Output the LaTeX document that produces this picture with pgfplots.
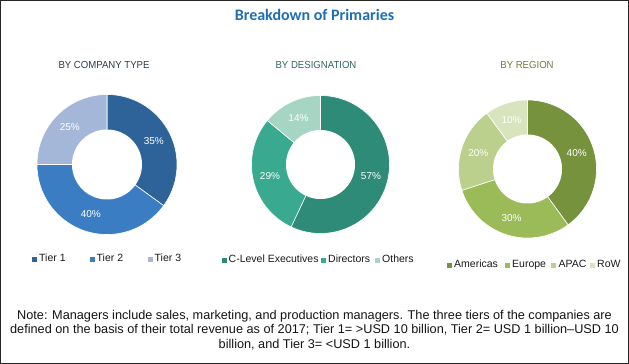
\documentclass[border=0pt]{standalone}
\usepackage{pgfplots}
\pgfplotsset{compat=1.18}
\usepackage{fontspec}
\setmainfont{Liberation Sans}
\newfontfamily\titlefont{Carlito}
\newfontfamily\subfont[FakeStretch=0.94]{Liberation Sans}

\definecolor{titleblue}{HTML}{1F6DB4}
\definecolor{tA}{HTML}{2E6399}
\definecolor{tB}{HTML}{3A7DC3}
\definecolor{tC}{HTML}{A4B7D9}
\definecolor{dA}{HTML}{2E8B77}
\definecolor{dB}{HTML}{39AA90}
\definecolor{dC}{HTML}{A7D5C4}
\definecolor{rA}{HTML}{76923C}
\definecolor{rB}{HTML}{9BBB59}
\definecolor{rC}{HTML}{BBD08C}
\definecolor{rD}{HTML}{D8E4BD}
\definecolor{subA}{HTML}{2D3B4B}
\definecolor{subB}{HTML}{2F6660}
\definecolor{subC}{HTML}{77773C}

% #1 = share before this slice (%), #2 = share of the slice (%), #3 = colour
\newcommand\slice[3]{%
  \addplot[fill=#3, draw=white, line width=0.6pt, domain={90-3.6*(#1+#2)}:{90-3.6*(#1)}, samples=60, variable=\t]
    ({cos(\t)},{sin(\t)}) -- (axis cs:0,0) -- cycle;
  \node[text=white, font=\fontsize{10}{12}\selectfont] at (axis cs:{0.75*cos(90-3.6*(#1+#2/2))},{0.75*sin(90-3.6*(#1+#2/2))}) {#2\%};
}
\newcommand\hole{%
  \addplot[fill=white, draw=none, domain=0:360, samples=120, variable=\t] ({0.5*cos(\t)},{0.5*sin(\t)}) -- cycle;
}
\pgfplotsset{donut/.style={hide axis, scale only axis, anchor=center, clip=false,
  xmin=-1, xmax=1, ymin=-1, ymax=1}}

\begin{document}
\begin{tikzpicture}
\useasboundingbox (0,0) rectangle (629pt,364pt);
\draw[line width=1.3pt, color=black!85] (0.65pt,0.65pt) rectangle (628.35pt,363.35pt);

\node[anchor=base, font=\titlefont\bfseries\fontsize{16}{18}\selectfont, text=titleblue] at (314.5pt,343pt) {Breakdown of Primaries};

\node[anchor=base, font=\subfont\fontsize{10.2}{12}\selectfont, text=subA] at (104pt,295pt) {BY COMPANY TYPE};
\node[anchor=base, font=\subfont\fontsize{10.2}{12}\selectfont, text=subB] at (316pt,295pt) {BY DESIGNATION};
\node[anchor=base, font=\subfont\fontsize{10.2}{12}\selectfont, text=subC] at (527pt,295pt) {BY REGION};

% By company type
\begin{axis}[donut, at={(107pt,199.5pt)}, width=140pt, height=140pt]
\slice{0}{35}{tA}
\slice{35}{40}{tB}
\slice{75}{25}{tC}
\hole
\end{axis}

% By designation
\begin{axis}[donut, at={(320.5pt,199.5pt)}, width=138pt, height=138pt]
\slice{0}{57}{dA}
\slice{57}{29}{dB}
\slice{86}{14}{dC}
\hole
\end{axis}

% By region
\begin{axis}[donut, at={(527.5pt,195pt)}, width=138pt, height=138pt]
\slice{0}{40}{rA}
\slice{40}{30}{rB}
\slice{70}{20}{rC}
\slice{90}{10}{rD}
\hole
\end{axis}

% legends
\begin{scope}[every node/.style={anchor=base west, inner sep=0pt, font=\fontsize{10.5}{12}\selectfont, text=black!90}]
\fill[tA] (32pt,102pt) rectangle ++(5pt,5pt); \node at (39pt,102pt) {Tier 1};
\fill[tB] (90pt,102pt) rectangle ++(5pt,5pt); \node at (96.5pt,102pt) {Tier 2};
\fill[tC] (148pt,102pt) rectangle ++(5pt,5pt); \node at (154.5pt,102pt) {Tier 3};

\fill[dA] (222pt,101pt) rectangle ++(5pt,5pt); \node at (228.5pt,101pt) {C-Level Executives};
\fill[dB] (321pt,101pt) rectangle ++(5pt,5pt); \node at (328pt,101pt) {Directors};
\fill[dC] (375pt,101pt) rectangle ++(5pt,5pt); \node at (382pt,101pt) {Others};

\fill[rA] (447pt,96pt) rectangle ++(5pt,5pt); \node at (454pt,96pt) {Americas};
\fill[rB] (505pt,96pt) rectangle ++(5pt,5pt); \node at (512pt,96pt) {Europe};
\fill[rC] (551pt,96pt) rectangle ++(5pt,5pt); \node at (558.5pt,96pt) {APAC};
\fill[rD] (590pt,96pt) rectangle ++(5pt,5pt); \node at (597pt,96pt) {RoW};
\end{scope}

% note
\begin{scope}[every node/.style={anchor=base, inner sep=0pt, font=\fontsize{12.7}{14}\selectfont, text=black!92}]
\node at (314.5pt,44.7pt) {Note: Managers include sales, marketing, and production managers. The three tiers of the companies are};
\node at (314.5pt,30.2pt) {defined on the basis of their total revenue as of 2017; Tier 1= >USD 10 billion, Tier 2= USD 1 billion--USD 10};
\node at (314.5pt,15.7pt) {billion, and Tier 3= <USD 1 billion.};
\end{scope}
\end{tikzpicture}
\end{document}
